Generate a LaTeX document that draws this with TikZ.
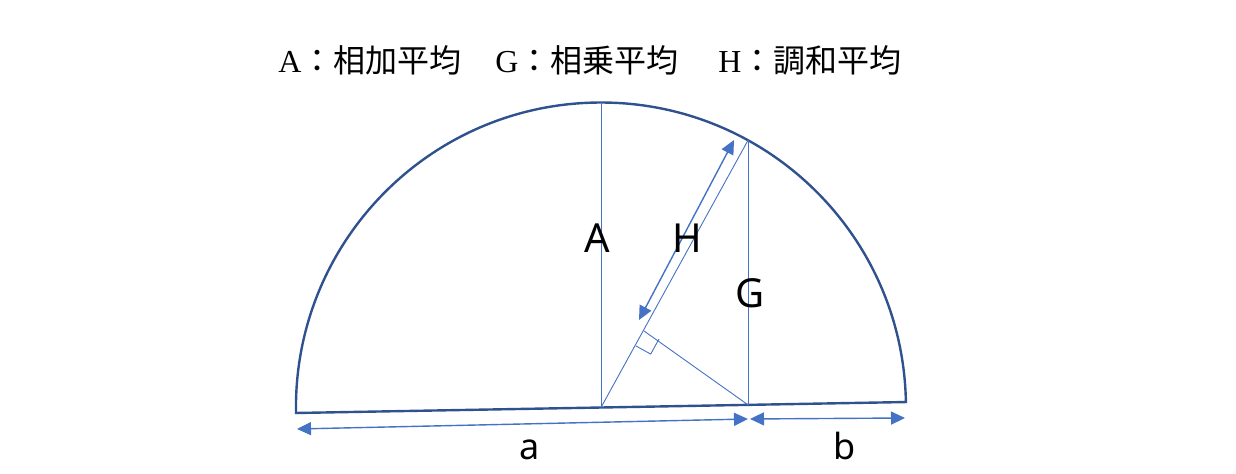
\documentclass[tikz,border=0pt]{standalone}
\usepackage{fontspec}
\setmainfont{Liberation Serif}
\setsansfont{Noto Sans}
\newfontfamily\cjk{Noto Sans CJK JP}
\usetikzlibrary{arrows.meta}
\definecolor{darkblue}{HTML}{2F528F}
\definecolor{lightblue}{HTML}{4472C4}
\tikzstyle{outline} = [draw=darkblue, line width=1.2pt, line join=miter]
\tikzstyle{thinline} = [draw=lightblue, line width=0.45pt]
\tikzstyle{measure} = [draw=lightblue, line width=0.7pt, >={Triangle[length=7pt,width=6.5pt]}, <->]
\tikzstyle{heading} = [anchor=base west, inner sep=0pt, font=\fontsize{16}{18}\selectfont]
\tikzstyle{letter} = [inner sep=0pt, font=\sffamily\fontsize{20}{22}\selectfont]
\tikzstyle{side} = [inner sep=0pt, font=\sffamily\fontsize{18}{20}\selectfont]

\begin{document}
\begin{tikzpicture}[x=0.5pt,y=0.5pt]
	\useasboundingbox (0,0) rectangle (1236,474);

	% points of the half circle
	\coordinate (O) at (601,66.5);
	\coordinate (L) at (296,61);
	\coordinate (R) at (906,72);
	\coordinate (T) at (601,371.5);
	\coordinate (P) at (748,69.15);
	\coordinate (Q) at (748,333.7);
	\coordinate (F) at (644,143);

	% the title
	\node [heading] (tA) at (278,401) {A{\cjk ：相加平均}};
	\node [heading] (tG) at (495,401) {G{\cjk ：相乗平均}};
	\node [heading] (tH) at (718,401) {H{\cjk ：調和平均}};

	% half circle and its diameter
	\draw [outline] (L) arc[start angle=181.03, end angle=1.03, radius=305] -- cycle;

	% A, G and the foot of H
	\draw [thinline] (O) -- (T);
	\draw [thinline] (P) -- (Q);
	\draw [thinline] (O) -- (Q);
	\draw [thinline] (P) -- (F);

	% right angle mark
	\coordinate (r1) at (635.8,128.1);
	\coordinate (r2) at (650.7,119.9);
	\coordinate (r3) at (658.9,134.8);
	\draw [thinline] (r1) -- (r2) -- (r3);

	% length of H
	\coordinate (h1) at (639,154);
	\coordinate (h2) at (734,334);
	\draw [measure] (h1) -- (h2);

	% lengths a and b
	\coordinate (a1) at (297,45);
	\coordinate (a2) at (748,55);
	\coordinate (b1) at (750,55);
	\coordinate (b2) at (905,56);
	\draw [measure] (a1) -- (a2);
	\draw [measure] (b1) -- (b2);

	% labels
	\node [letter] (lA) at (597,236) {A};
	\node [letter] (lH) at (687,236) {H};
	\node [letter] (lG) at (750,181) {G};
	\node [side] (la) at (530,24.5) {a};
	\node [side] (lb) at (845,28) {b};
\end{tikzpicture}
\end{document}
